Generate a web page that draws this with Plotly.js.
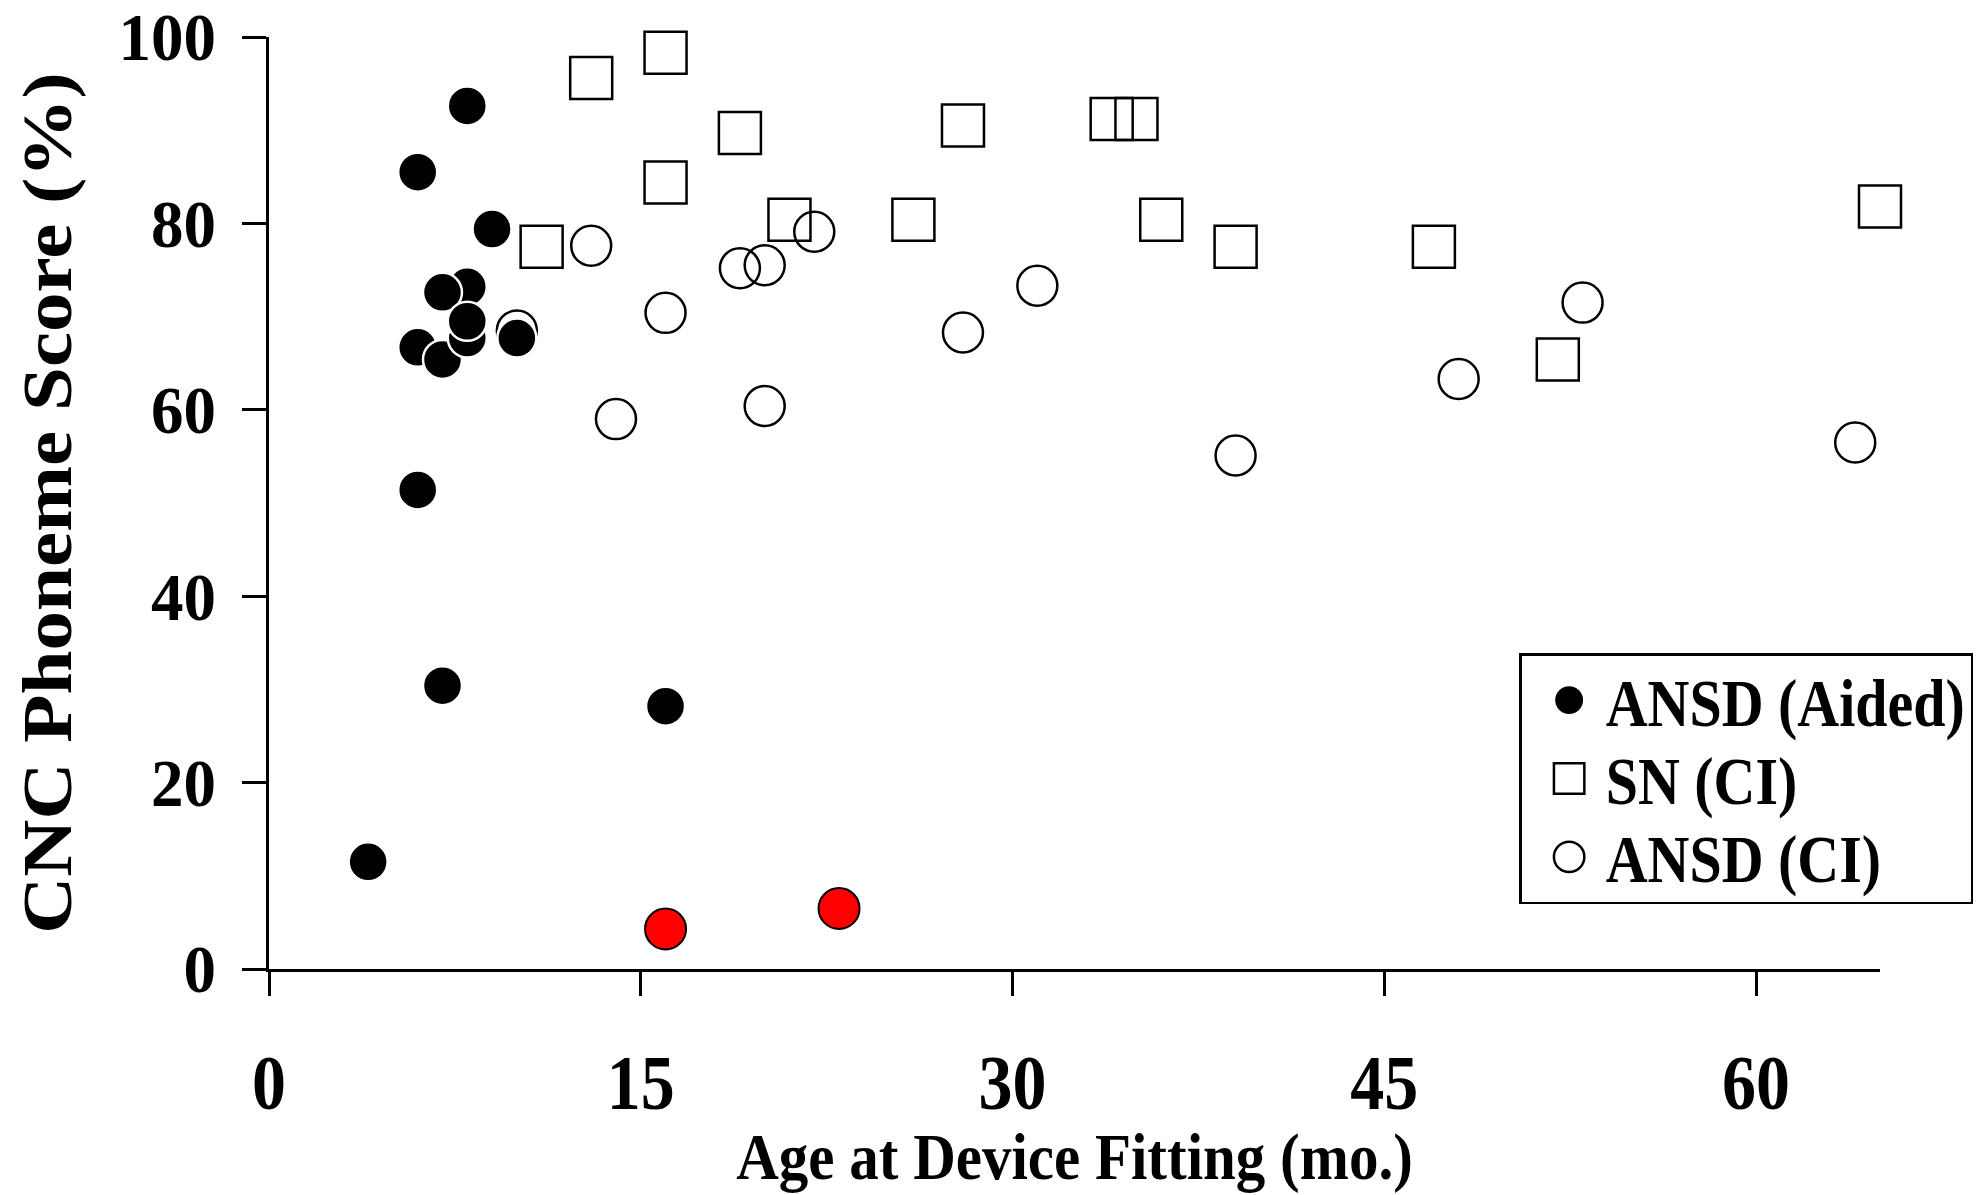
<!DOCTYPE html>
<html><head><meta charset="utf-8">
<script src="https://cdn.plot.ly/plotly-3.0.1.min.js"></script>
<style>html,body{margin:0;padding:0;background:#fff}</style>
</head><body><div id="chart" style="width:1977px;height:1195px"></div>
<script>
// ANSD (Aided) — hearing aid users
const aidedAge = [4, 6, 6, 6, 7, 8, 8, 7, 8, 7, 8, 9, 10, 16];
const aidedScore = [11.5, 85.5, 51.4, 66.7, 65.4, 67.7, 73.2, 72.6, 69.5, 30.4, 92.6, 79.4, 67.7, 28.2];
// ANSD (Aided) — highlighted in red
const aidedRedAge = [16, 23];
const aidedRedScore = [4.3, 6.5];
// SN (CI)
const snCiAge = [11, 13, 16, 16, 19, 21, 26, 28, 34, 35, 36, 39, 47, 52, 65];
const snCiScore = [77.5, 95.6, 98.3, 84.4, 89.7, 80.4, 80.4, 90.5, 91.2, 91.2, 80.4, 77.5, 77.5, 65.4, 81.8];
// ANSD (CI)
const ansdCiAge = [10, 13, 14, 16, 19, 20, 20, 22, 28, 31, 39, 48, 53, 64];
const ansdCiScore = [68.5, 77.6, 59, 70.4, 75.2, 75.5, 60.4, 79.1, 68.3, 73.3, 55.1, 63.3, 71.5, 56.5];
// Axes
const xTicks = [0, 15, 30, 45, 60];
const yTicks = [0, 20, 40, 60, 80, 100];
const xTitle = 'Age at Device Fitting (mo.)';
const yTitle = 'CNC Phoneme Score (%)';
const seriesNames = ['ANSD (Aided)', 'SN (CI)', 'ANSD (CI)'];

const FONT = 'Liberation Serif, Times New Roman, serif';

const traces = [
  {
    x: snCiAge, y: snCiScore, name: seriesNames[1], type: 'scatter', mode: 'markers',
    legendrank: 2, cliponaxis: false,
    marker: {symbol: 'square-open', size: 42, color: '#000', line: {color: '#000', width: 2.5}}
  },
  {
    x: ansdCiAge, y: ansdCiScore, name: seriesNames[2], type: 'scatter', mode: 'markers',
    legendrank: 3, cliponaxis: false,
    marker: {symbol: 'circle-open', size: 40, color: '#000', line: {color: '#000', width: 2.5}}
  },
  {
    x: aidedAge, y: aidedScore, name: seriesNames[0], type: 'scatter', mode: 'markers',
    legendrank: 1, cliponaxis: false,
    marker: {symbol: 'circle', size: 39, color: '#000', line: {color: '#fff', width: 2.5}}
  },
  {
    x: aidedRedAge, y: aidedRedScore, name: seriesNames[0], type: 'scatter', mode: 'markers',
    showlegend: false, cliponaxis: false,
    marker: {symbol: 'circle', size: 41, color: '#ff0000', line: {color: '#000', width: 2}}
  }
];

const layout = {
  width: 1977, height: 1195,
  margin: {l: 269, r: 97, t: 37, b: 226, pad: 0, autoexpand: false},
  paper_bgcolor: '#fff', plot_bgcolor: '#fff',
  font: {family: FONT, color: '#000', weight: 'bold'},
  showlegend: true,
  legend: {
    x: 0.776, y: 0.3386, xanchor: 'left', yanchor: 'top',
    bgcolor: '#fff', bordercolor: '#000', borderwidth: 2.5,
    font: {family: FONT, size: 58, color: '#000', weight: 'bold'},
    itemwidth: 74, tracegroupgap: 0
  },
  xaxis: {
    range: [0, 65], tickmode: 'array', tickvals: xTicks, ticktext: xTicks.map(String),
    showgrid: false, zeroline: false, showline: true, linecolor: '#000', linewidth: 3,
    ticks: 'outside', ticklen: 24, tickwidth: 3, tickcolor: '#000',
    ticklabelstandoff: 28, ticklabeloverflow: 'allow',
    tickfont: {family: FONT, size: 68, color: '#000', weight: 'bold'},
    title: {text: xTitle, standoff: 16.5, font: {family: FONT, size: 59, color: '#000', weight: 'bold'}},
    automargin: false, fixedrange: true
  },
  yaxis: {
    range: [0, 100], tickmode: 'array', tickvals: yTicks, ticktext: yTicks.map(String),
    showgrid: false, zeroline: false, showline: true, linecolor: '#000', linewidth: 3,
    ticks: 'outside', ticklen: 24, tickwidth: 3, tickcolor: '#000',
    ticklabelstandoff: 13, ticklabeloverflow: 'allow',
    tickfont: {family: FONT, size: 65, color: '#000', weight: 'bold'},
    title: {text: yTitle, standoff: 24.5, font: {family: FONT, size: 70, color: '#000', weight: 'bold'}},
    automargin: false, fixedrange: true
  }
};

// The source figure's lettering is tall and narrow; stretch text vertically (on screen) about its centre.
function stretchText(el, s) {
  const r = el.getBoundingClientRect();
  const m = el.parentNode.getScreenCTM();
  const cx = (r.left + r.width / 2 - m.e) / m.a;
  const cy = (r.top + r.height / 2 - m.f) / m.d;
  const prev = el.getAttribute('transform') || '';
  el.setAttribute('transform',
    'translate(' + cx + ',' + cy + ') scale(1,' + s + ') translate(' + (-cx) + ',' + (-cy) + ') ' + prev);
}

Plotly.newPlot('chart', traces, layout, {displayModeBar: false, staticPlot: true}).then(function (gd) {
  gd.querySelectorAll('.xtick text').forEach(function (t) { stretchText(t, 1.15); });
  gd.querySelectorAll('.ytick text').forEach(function (t) { stretchText(t, 1.03); });
  gd.querySelectorAll('.legendtext').forEach(function (t) { stretchText(t, 1.15); });
  gd.querySelectorAll('.g-xtitle text').forEach(function (t) { stretchText(t, 1.1); });
  gd.querySelectorAll('.g-ytitle text').forEach(function (t) { stretchText(t, 1.13); });
  // larger legend symbols, as in the source figure
  gd.querySelectorAll('.legend .legendpoints path').forEach(function (p) {
    const prev = p.getAttribute('transform') || '';
    p.setAttribute('transform', prev + ' translate(5.5,0) scale(1.9)');
    p.style.vectorEffect = 'non-scaling-stroke';
  });
});
</script>
</body></html>
